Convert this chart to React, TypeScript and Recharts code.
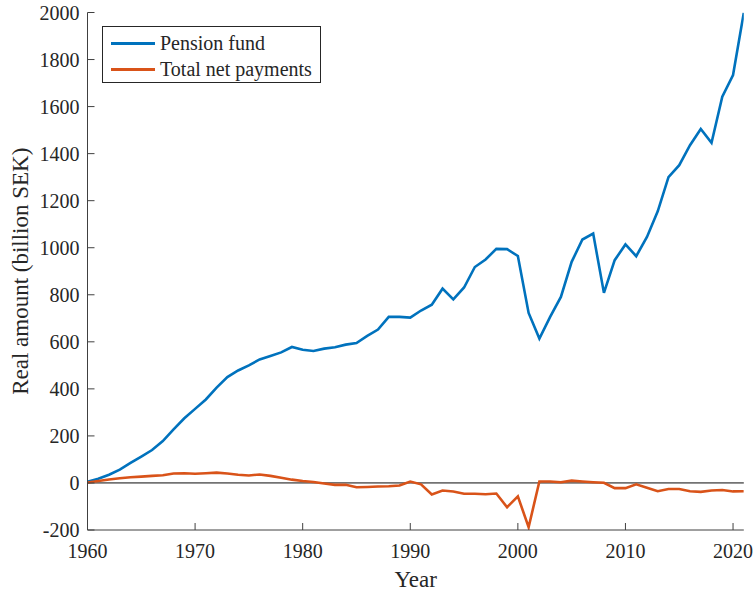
import React from 'react';
import { LineChart, Line, XAxis, YAxis, ReferenceLine, Legend } from 'recharts';

const years = [
  1960, 1961, 1962, 1963, 1964, 1965, 1966, 1967, 1968, 1969,
  1970, 1971, 1972, 1973, 1974, 1975, 1976, 1977, 1978, 1979,
  1980, 1981, 1982, 1983, 1984, 1985, 1986, 1987, 1988, 1989,
  1990, 1991, 1992, 1993, 1994, 1995, 1996, 1997, 1998, 1999,
  2000, 2001, 2002, 2003, 2004, 2005, 2006, 2007, 2008, 2009,
  2010, 2011, 2012, 2013, 2014, 2015, 2016, 2017, 2018, 2019,
  2020, 2021,
];

const pensionFund = [
  5, 18, 35, 57, 85, 112, 140, 178, 228, 275,
  315, 355, 405, 450, 478, 500, 525, 540, 555, 578,
  566, 561, 571, 577, 588, 595, 625, 652, 706, 706,
  703, 733, 758, 826, 780, 831, 918, 950, 995, 994,
  965, 723, 614, 706, 791, 940, 1035, 1060, 808, 947,
  1014, 964, 1046, 1155, 1300, 1351, 1436, 1505, 1446, 1642,
  1734, 1999,
];

const totalNetPayments = [
  2, 8, 15, 20, 24, 27, 30, 33, 40, 41,
  39, 41, 44, 40, 35, 32, 36, 30, 22, 14,
  8, 4, -2, -8, -8, -18, -17, -15, -14, -11,
  6, -6, -49, -32, -36, -46, -46, -48, -45, -103,
  -57, -188, 6, 6, 3, 10, 6, 3, 1, -22,
  -22, -6, -20, -35, -26, -26, -35, -38, -32, -30,
  -36, -35,
];

const xTicks = [1960, 1970, 1980, 1990, 2000, 2010, 2020];
const yTicks = [-200, 0, 200, 400, 600, 800, 1000, 1200, 1400, 1600, 1800, 2000];

const seriesNames = ['Pension fund', 'Total net payments'];

const data = years.map((year, i) => ({
  year,
  pension: pensionFund[i],
  net: totalNetPayments[i],
}));

const FONT = 'Liberation Serif, DejaVu Serif, serif';
const BLUE = '#0072BD';
const ORANGE = '#D95319';
const AXIS = '#404040';
const TEXT = '#262626';

const Y_MARGIN = 8;
const X_MARGIN = 14;

const YTick = (props: any) => {
  const { x, y, payload } = props;
  return (
    <g>
      <line x1={x + Y_MARGIN} x2={x + Y_MARGIN + 7} y1={y} y2={y} stroke={AXIS} strokeWidth={1} />
      <text
        x={x}
        y={y}
        textAnchor="end"
        dominantBaseline="central"
        fill={TEXT}
        style={{ fontFamily: FONT, fontSize: 20 }}
      >
        {payload.value}
      </text>
    </g>
  );
};

const XTick = (props: any) => {
  const { x, y, payload } = props;
  return (
    <g>
      <line x1={x} x2={x} y1={y - X_MARGIN} y2={y - X_MARGIN - 7} stroke={AXIS} strokeWidth={1} />
      <text
        x={x}
        y={y}
        dy="0.71em"
        textAnchor="middle"
        fill={TEXT}
        style={{ fontFamily: FONT, fontSize: 20 }}
      >
        {payload.value}
      </text>
    </g>
  );
};

const LegendBox = () => (
  <div
    style={{
      position: 'relative',
      width: 219,
      height: 57,
      boxSizing: 'border-box',
      border: '1px solid #262626',
      background: '#fff',
      fontFamily: FONT,
      fontSize: 20,
      color: TEXT,
    }}
  >
    {[BLUE, ORANGE].map((c, i) => (
      <div key={i} style={{ position: 'absolute', left: 0, top: 3 + i * 26, height: 26, width: 219 }}>
        <div style={{ position: 'absolute', left: 8, top: 12, width: 44, height: 3, background: c }} />
        <div
          style={{
            position: 'absolute',
            left: 57,
            top: 0,
            lineHeight: '26px',
            whiteSpace: 'nowrap',
            fontFamily: FONT,
            fontSize: 20,
          }}
        >
          {seriesNames[i]}
        </div>
      </div>
    ))}
  </div>
);

export default function App() {
  return (
    <div style={{ position: 'absolute', left: 0, top: 0, fontFamily: FONT }}>
      <LineChart
        width={755}
        height={592}
        data={data}
        margin={{ top: 12.5, right: 11.2, bottom: 0, left: 0 }}
        style={{ fontFamily: FONT }}
      >
        <XAxis
          dataKey="year"
          type="number"
          domain={[1960, 2021]}
          ticks={xTicks}
          allowDataOverflow
          height={62}
          tickSize={0}
          tickMargin={X_MARGIN}
          tick={<XTick />}
          axisLine={{ stroke: AXIS, strokeWidth: 1 }}
          tickLine={false}
          label={{
            value: 'Year',
            position: 'insideBottom',
            offset: 5,
            fill: TEXT,
            style: { fontFamily: FONT, fontSize: 23 },
          }}
        />
        <YAxis
          type="number"
          domain={[-200, 2000]}
          ticks={yTicks}
          allowDataOverflow
          width={87.5}
          tickSize={0}
          tickMargin={Y_MARGIN}
          tick={<YTick />}
          axisLine={{ stroke: AXIS, strokeWidth: 1 }}
          tickLine={false}
          label={{
            value: 'Real amount (billion SEK)',
            angle: -90,
            position: 'insideLeft',
            offset: 20,
            fill: TEXT,
            style: { textAnchor: 'middle', fontFamily: FONT, fontSize: 23 },
          }}
        />
        <ReferenceLine y={0} stroke="#737373" strokeWidth={1.8} ifOverflow="extendDomain" />
        <Line
          type="linear"
          dataKey="pension"
          name={seriesNames[0]}
          stroke={BLUE}
          strokeWidth={2.6}
          dot={false}
          isAnimationActive={false}
        />
        <Line
          type="linear"
          dataKey="net"
          name={seriesNames[1]}
          stroke={ORANGE}
          strokeWidth={2.6}
          dot={false}
          isAnimationActive={false}
        />
        <Legend
          layout="vertical"
          align="center"
          verticalAlign="middle"
          wrapperStyle={{ left: 102, top: 26, width: 219, height: 57 }}
          content={() => <LegendBox />}
        />
      </LineChart>
    </div>
  );
}
